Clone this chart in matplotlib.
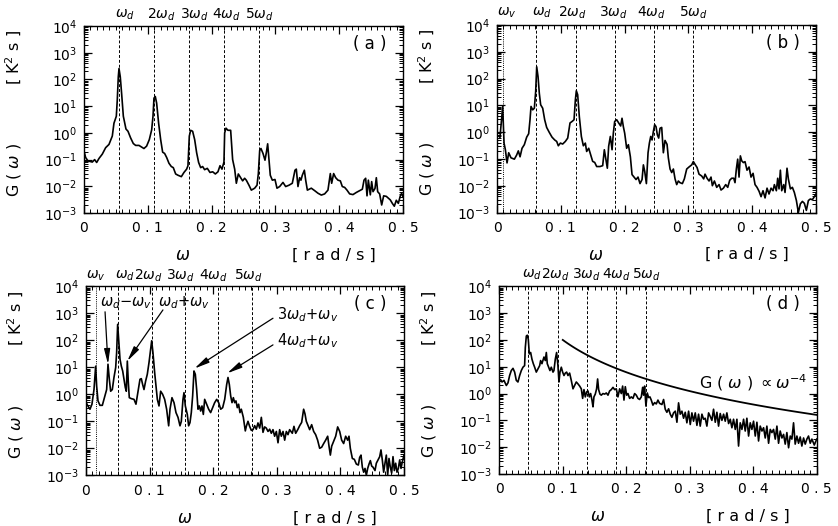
import matplotlib
matplotlib.use('Agg')
import matplotlib.pyplot as plt
import numpy as np
from matplotlib.ticker import FixedLocator, LogLocator, NullFormatter

plt.rcParams['font.family'] = ['DejaVu Sans']
plt.rcParams['mathtext.fontset'] = 'dejavusans'

# ---- spectra G(w) read per panel: frequency [rad/s] and power [K^2 s] ----
w_a = [0.0, 0.0026, 0.0063, 0.0131, 0.0167, 0.0199, 0.0235, 0.0287, 0.0340, 0.0392,
       0.0444, 0.0470, 0.0507, 0.0522, 0.0538, 0.0549, 0.0569, 0.0590, 0.0617, 0.0658,
       0.0690, 0.0731, 0.0773, 0.0810, 0.0862, 0.0899, 0.0940, 0.0982, 0.1024, 0.1061,
       0.1082, 0.1097, 0.1118, 0.1139, 0.1170, 0.1202, 0.1233, 0.1264, 0.1296, 0.1332,
       0.1369, 0.1400, 0.1437, 0.1473, 0.1526, 0.1567, 0.1609, 0.1630, 0.1651, 0.1672,
       0.1703, 0.1735, 0.1766, 0.1797, 0.1829, 0.1860, 0.1891, 0.1933, 0.1975, 0.2017,
       0.2059, 0.2100, 0.2132, 0.2163, 0.2194, 0.2205, 0.2226, 0.2257, 0.2299, 0.2330,
       0.2362, 0.2388, 0.2419, 0.2456, 0.2487, 0.2518, 0.2544, 0.2586, 0.2623, 0.2675,
       0.2712, 0.2733, 0.2754, 0.2774, 0.2806, 0.2837, 0.2858, 0.2879, 0.2900, 0.2920,
       0.2952, 0.2994, 0.3025, 0.3067, 0.3119, 0.3161, 0.3213, 0.3265, 0.3307, 0.3328,
       0.3354, 0.3380, 0.3401, 0.3422, 0.3454, 0.3475, 0.3501, 0.3563, 0.3615, 0.3668,
       0.3720, 0.3772, 0.3824, 0.3861, 0.3882, 0.3913, 0.3945, 0.3981, 0.4018, 0.4049,
       0.4086, 0.4122, 0.4164, 0.4216, 0.4269, 0.4321, 0.4363, 0.4389, 0.4415, 0.4436,
       0.4457, 0.4488, 0.4509, 0.4530, 0.4561, 0.4582, 0.4603, 0.4634, 0.4666, 0.4697,
       0.4739, 0.4770, 0.4801, 0.4833, 0.4864, 0.4895, 0.4927, 0.4958, 0.4979, 0.5]
g_a = [0.21, 0.12, 0.089, 0.081, 0.10, 0.078, 0.11, 0.16, 0.28, 0.37,
       0.76, 2.3, 4.2, 17, 126, 257, 126, 30, 4.2, 1.4,
       1.15, 0.65, 0.40, 0.34, 0.34, 0.30, 0.26, 0.32, 0.56, 1.3,
       4.2, 20, 23, 13, 2.3, 0.56, 0.19, 0.17, 0.12, 0.073,
       0.055, 0.050, 0.029, 0.026, 0.023, 0.033, 0.044, 0.059, 0.76, 1.25,
       1.15, 0.56, 0.18, 0.078, 0.050, 0.055, 0.042, 0.047, 0.033, 0.035,
       0.029, 0.035, 0.059, 0.044, 0.081, 1.0, 1.5, 1.25, 1.25, 0.10,
       0.044, 0.013, 0.029, 0.021, 0.016, 0.020, 0.017, 0.011, 0.0072, 0.0085,
       0.011, 0.030, 0.22, 0.26, 0.17, 0.095, 0.18, 0.39, 0.095, 0.026,
       0.017, 0.018, 0.0085, 0.0098, 0.014, 0.0098, 0.011, 0.013, 0.040, 0.044,
       0.0098, 0.021, 0.017, 0.026, 0.040, 0.017, 0.0072, 0.0085, 0.0069, 0.0055,
       0.0047, 0.0052, 0.0072, 0.030, 0.013, 0.030, 0.021, 0.017, 0.016, 0.0098,
       0.0091, 0.0072, 0.0052, 0.0049, 0.0059, 0.0069, 0.0078, 0.017, 0.020, 0.0044,
       0.017, 0.0048, 0.015, 0.0063, 0.0083, 0.021, 0.0063, 0.0052, 0.0020, 0.0044,
       0.0042, 0.0036, 0.0031, 0.0023, 0.0018, 0.0030, 0.0023, 0.0044, 0.0055, 0.0040]

w_b = [0.0045, 0.0089, 0.0110, 0.0131, 0.0157, 0.0183, 0.0219, 0.0272, 0.0308, 0.0334,
       0.0361, 0.0392, 0.0428, 0.0465, 0.0496, 0.0517, 0.0533, 0.0559, 0.0585, 0.0606,
       0.0622, 0.0643, 0.0663, 0.0684, 0.0716, 0.0747, 0.0778, 0.0820, 0.0862, 0.0904,
       0.0935, 0.0961, 0.0993, 0.1029, 0.1071, 0.1108, 0.1144, 0.1176, 0.1207, 0.1228,
       0.1243, 0.1264, 0.1290, 0.1322, 0.1353, 0.1384, 0.1405, 0.1437, 0.1468, 0.1499,
       0.1531, 0.1562, 0.1614, 0.1656, 0.1682, 0.1708, 0.1729, 0.1750, 0.1776, 0.1803,
       0.1823, 0.1844, 0.1876, 0.1907, 0.1938, 0.1959, 0.1980, 0.2001, 0.2032, 0.2059,
       0.2090, 0.2116, 0.2147, 0.2179, 0.2210, 0.2241, 0.2273, 0.2294, 0.2315, 0.2341,
       0.2367, 0.2388, 0.2409, 0.2430, 0.2450, 0.2471, 0.2492, 0.2513, 0.2534, 0.2555,
       0.2581, 0.2607, 0.2633, 0.2665, 0.2685, 0.2712, 0.2738, 0.2764, 0.2790, 0.2816,
       0.2842, 0.2868, 0.2905, 0.2936, 0.2973, 0.3009, 0.3051, 0.3077, 0.3103, 0.3135,
       0.3166, 0.3208, 0.3239, 0.3260, 0.3292, 0.3323, 0.3354, 0.3375, 0.3407, 0.3443,
       0.3480, 0.3511, 0.3548, 0.3584, 0.3616, 0.3647, 0.3678, 0.3710, 0.3730, 0.3751,
       0.3772, 0.3793, 0.3814, 0.3835, 0.3861, 0.3887, 0.3918, 0.3950, 0.3981, 0.4013,
       0.4044, 0.4075, 0.4107, 0.4138, 0.4169, 0.4201, 0.4232, 0.4263, 0.4295, 0.4326,
       0.4347, 0.4378, 0.4399, 0.4420, 0.4441, 0.4462, 0.4493, 0.4514, 0.4545, 0.4566,
       0.4598, 0.4629, 0.4660, 0.4692, 0.4723, 0.4754, 0.4786, 0.4817, 0.4848, 0.4880,
       0.4911, 0.4942, 0.4974, 0.5]
g_b = [0.6, 9.1, 0.39, 0.22, 0.071, 0.17, 0.11, 0.098, 0.14, 0.20,
       0.12, 0.25, 0.34, 0.65, 0.87, 2.9, 9.1, 6.8, 7.8, 33,
       275, 117, 28, 10.5, 7.8, 2.9, 1.5, 0.97, 0.65, 0.51,
       0.45, 0.31, 0.39, 0.36, 0.45, 0.60, 2.2, 2.5, 2.9, 16,
       35, 25, 3.8, 0.69, 0.31, 0.39, 0.19, 0.25, 0.14, 0.081,
       0.074, 0.052, 0.052, 0.056, 0.22, 0.093, 0.045, 0.30, 0.69, 0.22,
       0.91, 2.5, 2.9, 2.2, 1.7, 3.3, 1.6, 0.91, 0.25, 0.34,
       0.12, 0.026, 0.021, 0.017, 0.021, 0.012, 0.017, 0.060, 0.034, 0.012,
       0.17, 0.39, 0.69, 0.51, 1.05, 1.9, 1.6, 0.79, 0.60, 1.4,
       1.5, 0.17, 0.49, 0.35, 0.11, 0.042, 0.031, 0.042, 0.018, 0.011,
       0.015, 0.013, 0.012, 0.018, 0.042, 0.050, 0.060, 0.080, 0.063, 0.048,
       0.027, 0.023, 0.018, 0.027, 0.019, 0.015, 0.021, 0.010, 0.015, 0.0087,
       0.011, 0.0069, 0.0081, 0.011, 0.0087, 0.016, 0.019, 0.019, 0.013, 0.042,
       0.098, 0.021, 0.13, 0.085, 0.073, 0.079, 0.038, 0.050, 0.021, 0.029,
       0.011, 0.0087, 0.0062, 0.0039, 0.0065, 0.0035, 0.0081, 0.0049, 0.0081, 0.0065,
       0.011, 0.0065, 0.019, 0.0076, 0.038, 0.0065, 0.011, 0.0056, 0.045, 0.018,
       0.0076, 0.0087, 0.0056, 0.0028, 0.0010, 0.0021, 0.0026, 0.0022, 0.0012, 0.0028,
       0.0032, 0.0030, 0.0039, 0.0050]

w_c = [0.0, 0.0031, 0.0063, 0.0094, 0.0126, 0.0152, 0.0168, 0.0189, 0.0220, 0.0257,
       0.0283, 0.0309, 0.0325, 0.0346, 0.0367, 0.0388, 0.0414, 0.0440, 0.0467, 0.0482,
       0.0498, 0.0514, 0.0535, 0.0556, 0.0577, 0.0597, 0.0618, 0.0634, 0.0650, 0.0666,
       0.0681, 0.0713, 0.0755, 0.0786, 0.0818, 0.0849, 0.0870, 0.0891, 0.0912, 0.0938,
       0.0964, 0.0991, 0.1017, 0.1033, 0.1053, 0.1080, 0.1101, 0.1122, 0.1148, 0.1174,
       0.1205, 0.1237, 0.1268, 0.1300, 0.1321, 0.1352, 0.1384, 0.1415, 0.1447, 0.1478,
       0.1499, 0.1525, 0.1541, 0.1562, 0.1593, 0.1614, 0.1635, 0.1656, 0.1677, 0.1698,
       0.1719, 0.1740, 0.1761, 0.1782, 0.1803, 0.1824, 0.1845, 0.1866, 0.1897, 0.1929,
       0.1960, 0.1992, 0.2023, 0.2055, 0.2086, 0.2118, 0.2149, 0.2181, 0.2212, 0.2233,
       0.2254, 0.2275, 0.2296, 0.2317, 0.2338, 0.2358, 0.2379, 0.2400, 0.2421, 0.2442,
       0.2474, 0.2505, 0.2521, 0.2547, 0.2573, 0.2600, 0.2626, 0.2652, 0.2678, 0.2704,
       0.2731, 0.2757, 0.2783, 0.2809, 0.2835, 0.2862, 0.2888, 0.2914, 0.2940, 0.2966,
       0.2993, 0.3019, 0.3045, 0.3071, 0.3098, 0.3124, 0.3150, 0.3176, 0.3202, 0.3244,
       0.3270, 0.3297, 0.3333, 0.3360, 0.3391, 0.3422, 0.3443, 0.3464, 0.3491, 0.3517,
       0.3548, 0.3580, 0.3611, 0.3642, 0.3674, 0.3706, 0.3737, 0.3768, 0.3800, 0.3821,
       0.3842, 0.3863, 0.3894, 0.3926, 0.3957, 0.3989, 0.4020, 0.4051, 0.4083, 0.4114,
       0.4135, 0.4156, 0.4188, 0.4219, 0.4251, 0.4282, 0.4303, 0.4324, 0.4345, 0.4366,
       0.4387, 0.4408, 0.4429, 0.4450, 0.4471, 0.4492, 0.4513, 0.4544, 0.4565, 0.4591,
       0.4618, 0.4638, 0.4659, 0.4680, 0.4701, 0.4722, 0.4743, 0.4764, 0.4785, 0.4806,
       0.4827, 0.4848, 0.4869, 0.4890, 0.4911, 0.4932, 0.4953, 0.4974, 0.5]
g_c = [0.5, 0.37, 0.28, 0.43, 1.5, 11, 2.0, 0.57, 0.39, 0.39,
       0.65, 1.1, 1.5, 13, 3.6, 1.3, 1.5, 4.2, 9.8, 35,
       390, 110, 20, 11, 7.3, 3.6, 1.8, 1.3, 17, 2.7,
       0.75, 0.69, 0.65, 0.43, 1.3, 3.6, 3.8, 2.3, 1.5, 3.1,
       5.5, 15, 47, 96, 35, 6.3, 2.0, 0.65, 0.37, 1.3,
       1.0, 0.65, 0.28, 0.068, 0.28, 0.75, 0.49, 0.21, 0.14, 0.068,
       0.10, 0.65, 1.15, 0.37, 0.18, 0.068, 0.089, 0.21, 0.87, 7.3,
       5.5, 1.5, 0.28, 0.37, 0.24, 0.37, 0.18, 0.65, 0.43, 0.28,
       0.21, 0.32, 0.49, 0.65, 0.49, 0.28, 0.32, 0.65, 2.3, 4.2,
       2.3, 0.87, 0.49, 0.75, 0.49, 0.57, 0.32, 0.43, 0.21, 0.28,
       0.14, 0.044, 0.065, 0.10, 0.065, 0.046, 0.049, 0.069, 0.051, 0.087,
       0.056, 0.14, 0.039, 0.062, 0.056, 0.042, 0.051, 0.036, 0.049, 0.028,
       0.042, 0.016, 0.049, 0.028, 0.042, 0.020, 0.042, 0.032, 0.049, 0.036,
       0.065, 0.036, 0.051, 0.069, 0.091, 0.28, 0.19, 0.10, 0.069, 0.049,
       0.075, 0.042, 0.032, 0.020, 0.010, 0.011, 0.015, 0.020, 0.028, 0.012,
       0.0056, 0.012, 0.018, 0.028, 0.062, 0.042, 0.020, 0.015, 0.028, 0.020,
       0.028, 0.010, 0.0042, 0.0039, 0.0026, 0.0024, 0.0046, 0.0056, 0.0020, 0.0013,
       0.0018, 0.0010, 0.0018, 0.0026, 0.0035, 0.0022, 0.0020, 0.0015, 0.0028, 0.0037,
       0.0049, 0.0087, 0.0037, 0.0013, 0.0028, 0.0056, 0.0010, 0.0042, 0.0020, 0.0012,
       0.0049, 0.0015, 0.0028, 0.0013, 0.0018, 0.0037, 0.0018, 0.0032, 0.0056]

w_d = [0.0, 0.0021, 0.0043, 0.0074, 0.0111, 0.0137, 0.0163, 0.0189, 0.0216, 0.0242,
       0.0268, 0.0294, 0.0321, 0.0347, 0.0373, 0.0399, 0.0410, 0.0426, 0.0441, 0.0457,
       0.0473, 0.0494, 0.0515, 0.0536, 0.0557, 0.0583, 0.0609, 0.0636, 0.0651, 0.0672,
       0.0704, 0.0725, 0.0741, 0.0756, 0.0777, 0.0798, 0.0819, 0.0846, 0.0861, 0.0882,
       0.0903, 0.0924, 0.0940, 0.0956, 0.0977, 0.0998, 0.1019, 0.1040, 0.1061, 0.1082,
       0.1108, 0.1134, 0.1161, 0.1187, 0.1213, 0.1239, 0.1266, 0.1292, 0.1313, 0.1334,
       0.1355, 0.1376, 0.1397, 0.1418, 0.1439, 0.1460, 0.1476, 0.1491, 0.1512, 0.1533,
       0.1549, 0.1565, 0.1586, 0.1607, 0.1633, 0.1659, 0.1686, 0.1712, 0.1738, 0.1764,
       0.1791, 0.1817, 0.1843, 0.1869, 0.1896, 0.1922, 0.1943, 0.1964, 0.1985, 0.2006,
       0.2027, 0.2053, 0.2079, 0.2106, 0.2132, 0.2158, 0.2184, 0.2210, 0.2237, 0.2258,
       0.2273, 0.2289, 0.2310, 0.2331, 0.2352, 0.2373, 0.2394, 0.2420, 0.2447, 0.2473,
       0.2499, 0.2525, 0.2562, 0.2588, 0.2614, 0.2640, 0.2667, 0.2693, 0.2719, 0.2745,
       0.2772, 0.2798, 0.2824, 0.2850, 0.2877, 0.2903, 0.2929, 0.2955, 0.2982, 0.3008,
       0.3034, 0.3060, 0.3087, 0.3113, 0.3139, 0.3165, 0.3192, 0.3218, 0.3244, 0.3270,
       0.3297, 0.3323, 0.3349, 0.3375, 0.3402, 0.3428, 0.3454, 0.3480, 0.3507, 0.3533,
       0.3559, 0.3585, 0.3612, 0.3638, 0.3664, 0.3690, 0.3717, 0.3743, 0.3769, 0.3795,
       0.3822, 0.3848, 0.3874, 0.3900, 0.3927, 0.3953, 0.3979, 0.4005, 0.4032, 0.4058,
       0.4084, 0.4110, 0.4137, 0.4163, 0.4189, 0.4215, 0.4242, 0.4268, 0.4294, 0.4320,
       0.4347, 0.4373, 0.4399, 0.4425, 0.4452, 0.4478, 0.4504, 0.4530, 0.4557, 0.4583,
       0.4609, 0.4635, 0.4661, 0.4688, 0.4714, 0.4740, 0.4766, 0.4793, 0.4819, 0.4845,
       0.4871, 0.4898, 0.4924, 0.4962, 0.5]
g_d = [3.3, 3.3, 2.7, 3.1, 2.0, 2.5, 4.7, 7.2, 8.7, 6.3,
       3.1, 2.7, 4.7, 7.2, 9.6, 11, 52, 140, 150, 105,
       30, 34, 19, 13, 9.6, 6.3, 8.3, 11, 17, 13,
       23, 17, 34, 13, 9.6, 7.2, 9.6, 6.3, 7.2, 19,
       34, 11, 2.7, 6.3, 9.6, 6.3, 4.7, 5.8, 6.3, 4.7,
       5.8, 3.1, 1.5, 2.0, 2.7, 2.3, 1.9, 1.5, 0.66, 1.4,
       0.75, 1.15, 1.25, 0.75, 1.0, 0.57, 0.32, 0.75, 0.95, 1.5,
       3.5, 1.4, 0.95, 0.87, 1.0, 0.95, 1.05, 0.87, 1.25, 1.4,
       1.7, 1.4, 1.5, 0.75, 1.5, 1.0, 1.9, 0.57, 1.8, 0.87,
       1.0, 0.66, 0.75, 0.66, 1.0, 0.87, 0.66, 0.60, 0.75, 1.7,
       0.87, 1.9, 0.34, 1.05, 0.71, 0.75, 0.57, 0.37, 0.46, 0.41,
       0.57, 0.43, 0.39, 0.60, 0.26, 0.20, 0.27, 0.17, 0.13, 0.19,
       0.22, 0.085, 0.45, 0.17, 0.22, 0.12, 0.20, 0.081, 0.22, 0.070,
       0.19, 0.093, 0.19, 0.065, 0.17, 0.061, 0.17, 0.11, 0.12, 0.061,
       0.19, 0.14, 0.10, 0.26, 0.085, 0.20, 0.061, 0.18, 0.10, 0.17,
       0.093, 0.19, 0.076, 0.11, 0.053, 0.11, 0.046, 0.11, 0.011, 0.081,
       0.046, 0.11, 0.040, 0.12, 0.026, 0.081, 0.046, 0.093, 0.026, 0.085,
       0.017, 0.061, 0.040, 0.053, 0.022, 0.061, 0.014, 0.046, 0.035, 0.046,
       0.020, 0.061, 0.014, 0.040, 0.022, 0.030, 0.013, 0.035, 0.0095, 0.026,
       0.020, 0.081, 0.013, 0.026, 0.014, 0.024, 0.011, 0.022, 0.013, 0.020,
       0.026, 0.014, 0.020, 0.012, 0.020]

# harmonic markers (dashed) and vortex-frequency marker (dotted)
harm_a = [0.0548, 0.1096, 0.1650, 0.2197, 0.2750]
harm_b = [0.0617, 0.1234, 0.1846, 0.2458, 0.3075]
harm_c = [0.0508, 0.1031, 0.1555, 0.2079, 0.2613]
harm_d = [0.0457, 0.0919, 0.1376, 0.1838, 0.2306]
wv_b = 0.0094
wv_c = 0.0152

# reference slope in panel (d): G = C * w^-4 over 0.1 .. 0.5
slope_coef = 0.01
slope_range = [0.1, 0.5]

top_labels = [r'$\omega_d$', r'2$\omega_d$', r'3$\omega_d$', r'4$\omega_d$', r'5$\omega_d$']

fig = plt.figure(figsize=(8.38, 5.26), dpi=100)

boxes = {
    'a': [0.1002, 0.595, 0.3807, 0.3555],
    'b': [0.5931, 0.596, 0.3807, 0.3565],
    'c': [0.1026, 0.0964, 0.3795, 0.3593],
    'd': [0.5958, 0.0989, 0.3788, 0.3568],
}


def setup(ax, tag):
    ax.set_yscale('log')
    ax.set_xlim(0, 0.5)
    ax.set_ylim(1e-3, 1e4)
    ax.set_xticks([0, 0.1, 0.2, 0.3, 0.4, 0.5])
    ax.set_xticklabels(['0', '0 . 1', '0 . 2', '0 . 3', '0 . 4', '0 . 5'])
    ax.xaxis.set_minor_locator(FixedLocator(np.arange(0, 0.501, 0.01)))
    ax.set_yticks([10.0 ** k for k in range(-3, 5)])
    ax.set_yticklabels([r'$10^{%d}$' % k for k in range(-3, 5)])
    ax.yaxis.set_minor_locator(LogLocator(base=10, subs=np.arange(2, 10), numticks=20))
    ax.yaxis.set_minor_formatter(NullFormatter())
    ax.tick_params(which='both', direction='in', top=True, right=True, labelsize=10)
    ax.tick_params(which='major', length=6, width=0.9, pad=6)
    ax.tick_params(which='minor', length=3, width=0.7)
    ax.tick_params(axis='y', which='major', pad=5)
    for s in ax.spines.values():
        s.set_linewidth(1.0)
    ax.text(0.895, 0.905, '( %s )' % tag, transform=ax.transAxes, fontsize=12,
            ha='center', va='center')
    ax.text(0.31, -0.225, r'$\omega$', transform=ax.transAxes, fontsize=12,
            ha='center', va='center')
    ax.text(0.784, -0.225, '[ r a d / s ]', transform=ax.transAxes, fontsize=11.5,
            ha='center', va='center')
    ax.text(-0.22, 0.23, r'G ( $\omega$ )', transform=ax.transAxes, fontsize=11.5,
            rotation=90, ha='center', va='center')
    ax.text(-0.22, 0.83, r'[ K$^2$ s ]', transform=ax.transAxes, fontsize=11.5,
            rotation=90, ha='center', va='center')


def markers(ax, lines, xs, y, wv=None, wv_x=None):
    for w in lines:
        ax.axvline(w, color='k', lw=0.7, ls=(0, (3, 2)))
    if wv is not None:
        ax.axvline(wv, color='k', lw=0.7, ls=(0, (1, 1.2)))
        ax.text(wv_x, y, r'$\omega_v$', transform=ax.transAxes, fontsize=10,
                ha='left', va='center')
    for lab, x in zip(top_labels, xs):
        ax.text(x, y, lab, transform=ax.transAxes, fontsize=10, ha='left', va='center')


ax = fig.add_axes(boxes['a'])
setup(ax, 'a')
markers(ax, harm_a, [0.097, 0.197, 0.301, 0.401, 0.505], 1.059)
ax.plot(w_a, g_a, 'k-', lw=1.2)

ax = fig.add_axes(boxes['b'])
setup(ax, 'b')
markers(ax, harm_b, [0.11, 0.19, 0.32, 0.44, 0.57], 1.067, wv=wv_b, wv_x=0.0)
ax.plot(w_b, g_b, 'k-', lw=1.2)

ax = fig.add_axes(boxes['c'])
setup(ax, 'c')
markers(ax, harm_c, [0.091, 0.152, 0.252, 0.355, 0.465], 1.054, wv=wv_c, wv_x=0.0)
ax.plot(w_c, g_c, 'k-', lw=1.2)

arrow = dict(arrowstyle='-|>,head_length=0.9,head_width=0.18', color='k', lw=0.9,
             shrinkA=0, shrinkB=0)
ax.text(0.044, 0.912, r'$\omega_d$$-$$\omega_v$', transform=ax.transAxes, fontsize=10.5,
        ha='left', va='center')
ax.annotate('', xy=(0.0346, 13), xytext=(0.06, 0.865), textcoords='axes fraction',
            arrowprops=arrow)
ax.text(0.225, 0.912, r'$\omega_d$+$\omega_v$', transform=ax.transAxes, fontsize=10.5,
        ha='left', va='center')
ax.annotate('', xy=(0.0650, 17), xytext=(0.242, 0.875), textcoords='axes fraction',
            arrowprops=arrow)
ax.text(0.60, 0.848, r'3$\omega_d$+$\omega_v$', transform=ax.transAxes, fontsize=10.5,
        ha='left', va='center')
ax.annotate('', xy=(0.1705, 9), xytext=(0.588, 0.831), textcoords='axes fraction',
            arrowprops=arrow)
ax.text(0.60, 0.711, r'4$\omega_d$+$\omega_v$', transform=ax.transAxes, fontsize=10.5,
        ha='left', va='center')
ax.annotate('', xy=(0.222, 6), xytext=(0.588, 0.69), textcoords='axes fraction',
            arrowprops=arrow)

ax = fig.add_axes(boxes['d'])
setup(ax, 'd')
markers(ax, harm_d, [0.072, 0.132, 0.229, 0.323, 0.418], 1.062)
ax.plot(w_d, g_d, 'k-', lw=1.2)
ws = np.linspace(slope_range[0], slope_range[1], 100)
ax.plot(ws, slope_coef * ws ** -4, 'k-', lw=1.3)
ax.text(0.628, 0.485, r'G ( $\omega$ ) $\propto\omega^{-4}$', transform=ax.transAxes,
        fontsize=11.5, ha='left', va='center')

fig.savefig('out.png', dpi=100)
